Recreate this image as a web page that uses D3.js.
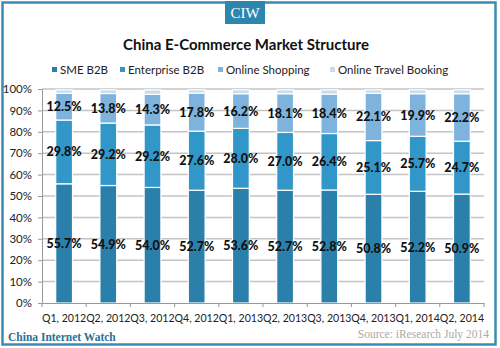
<!DOCTYPE html>
<html><head><meta charset="utf-8">
<script src="https://cdn.jsdelivr.net/npm/d3@7"></script>
<style>body{margin:0;background:#fff}svg{display:block}</style>
</head><body>
<svg id="c" width="500" height="348"></svg>
<script>
const categories = ["Q1, 2012","Q2, 2012","Q3, 2012","Q4, 2012","Q1, 2013","Q2, 2013","Q3, 2013","Q4, 2013","Q1, 2014","Q2, 2014"];
const smeB2B = [55.7,54.9,54.0,52.7,53.6,52.7,52.8,50.8,52.2,50.9];
const enterpriseB2B = [29.8,29.2,29.2,27.6,28.0,27.0,26.4,25.1,25.7,24.7];
const onlineShopping = [12.5,13.8,14.3,17.8,16.2,18.1,18.4,22.1,19.9,22.2];
const onlineTravel = [1.6,1.7,2.1,1.5,1.8,1.8,2.0,1.6,1.8,1.8];
const seriesNames = ["SME B2B","Enterprise B2B","Online Shopping","Online Travel Booking"];
const yTicks = [0,10,20,30,40,50,60,70,80,90,100];
const colors = ["#2a80ab","#3197c9","#7db3dc","#c7dcee"];
const seriesVals = [smeB2B, enterpriseB2B, onlineShopping, onlineTravel];
const labeled = [true,true,true,false];

const svg = d3.select("#c");
const font = "Lato, 'Open Sans', sans-serif";

// outer border
svg.append("rect").attr("x",2.5).attr("y",2.5).attr("width",493).attr("height",342)
  .attr("fill","none").attr("stroke","#3a8cb4").attr("stroke-width",2.5);
// CIW badge
svg.append("rect").attr("x",225).attr("y",1).attr("width",40).attr("height",23).attr("fill","#2d86ae");
svg.append("text").attr("x",245).attr("y",18).attr("text-anchor","middle")
  .attr("font-family","'Liberation Serif', serif").attr("font-size",15).attr("fill","#fff").text("CIW");

// title
svg.append("text").attr("x",246).attr("y",50).attr("text-anchor","middle")
  .attr("font-family",font).attr("font-weight","bold").attr("font-size",15).attr("fill","#111")
  .text("China E-Commerce Market Structure");

// legend
const legX = [52,120,218,330];
seriesNames.forEach((n,i)=>{
  svg.append("rect").attr("x",legX[i]).attr("y",67).attr("width",5).attr("height",5).attr("fill",colors[i]);
  svg.append("text").attr("x",legX[i]+8).attr("y",73.5).attr("font-family",font).attr("font-size",11.5)
    .attr("fill","#222").text(n);
});

const x = d3.scaleBand().domain(categories).range([42,484]).paddingInner(0.62).paddingOuter(0.31);
const xb = d3.scaleBand().domain(categories).range([42,484]);
const y = d3.scaleLinear().domain([0,100]).range([303,89]);

// gridlines
svg.append("g").selectAll("line").data(yTicks.slice(1)).join("line")
  .attr("x1",42).attr("x2",484).attr("y1",d=>y(d)).attr("y2",d=>y(d))
  .attr("stroke","#c4c4c4").attr("stroke-width",1.5);

// stacked
const rows = categories.map((c,i)=>{const o={cat:c}; seriesNames.forEach((s,j)=>o[s]=seriesVals[j][i]); return o;});
const stack = d3.stack().keys(seriesNames)(rows);
stack.forEach((layer,j)=>{
  svg.append("g").selectAll("rect").data(layer).join("rect")
    .attr("x",d=>x(d.data.cat)).attr("width",x.bandwidth())
    .attr("y",d=>y(d[1])).attr("height",d=>y(d[0])-y(d[1]))
    .attr("fill",colors[j]).attr("stroke","#fff").attr("stroke-width",1.2);
});
// labels
stack.forEach((layer,j)=>{
  if(!labeled[j]) return;
  svg.append("g").selectAll("text").data(layer).join("text")
    .attr("x",d=>xb(d.data.cat)+xb.bandwidth()/2).attr("y",d=>y((d[0]+d[1])/2)+4.5)
    .attr("text-anchor","middle").attr("font-family",font).attr("font-weight","900")
    .attr("font-size",12.5).attr("fill","#111").text(d=>(d[1]-d[0]).toFixed(1)+"%");
});

// y axis
const ya = d3.axisLeft(y).tickValues(yTicks).tickFormat(d=>d+"%").tickSize(4).tickPadding(6);
const yg = svg.append("g").attr("transform","translate(42,0)").call(ya);
yg.select(".domain").attr("stroke","#999");
yg.selectAll(".tick line").attr("stroke","#999");
yg.selectAll("text").attr("font-family",font).attr("font-size",11.5).attr("fill","#222");

// x axis
const xa = d3.axisBottom(xb).tickSize(0).tickPadding(11);
const xg = svg.append("g").attr("transform","translate(0,303)").call(xa);
xg.select(".domain").attr("stroke","#999");
xg.selectAll("text").attr("font-family",font).attr("font-size",10.6).attr("fill","#222");
xg.append("g").selectAll("line").data(d3.range(categories.length+1)).join("line")
  .attr("x1",i=>42+i*xb.step()).attr("x2",i=>42+i*xb.step()).attr("y1",0).attr("y2",4).attr("stroke","#999");

// footer
svg.append("text").attr("x",8).attr("y",341).attr("font-family","'Liberation Serif', serif")
  .attr("font-size",11.5).attr("font-weight","bold").attr("fill","#2a6f97").text("China Internet Watch");
svg.append("text").attr("x",489).attr("y",338).attr("text-anchor","end").attr("font-family","'Liberation Serif', serif")
  .attr("font-size",11.5).attr("fill","#aaa").text("Source: iResearch July 2014");
</script>
</body></html>
